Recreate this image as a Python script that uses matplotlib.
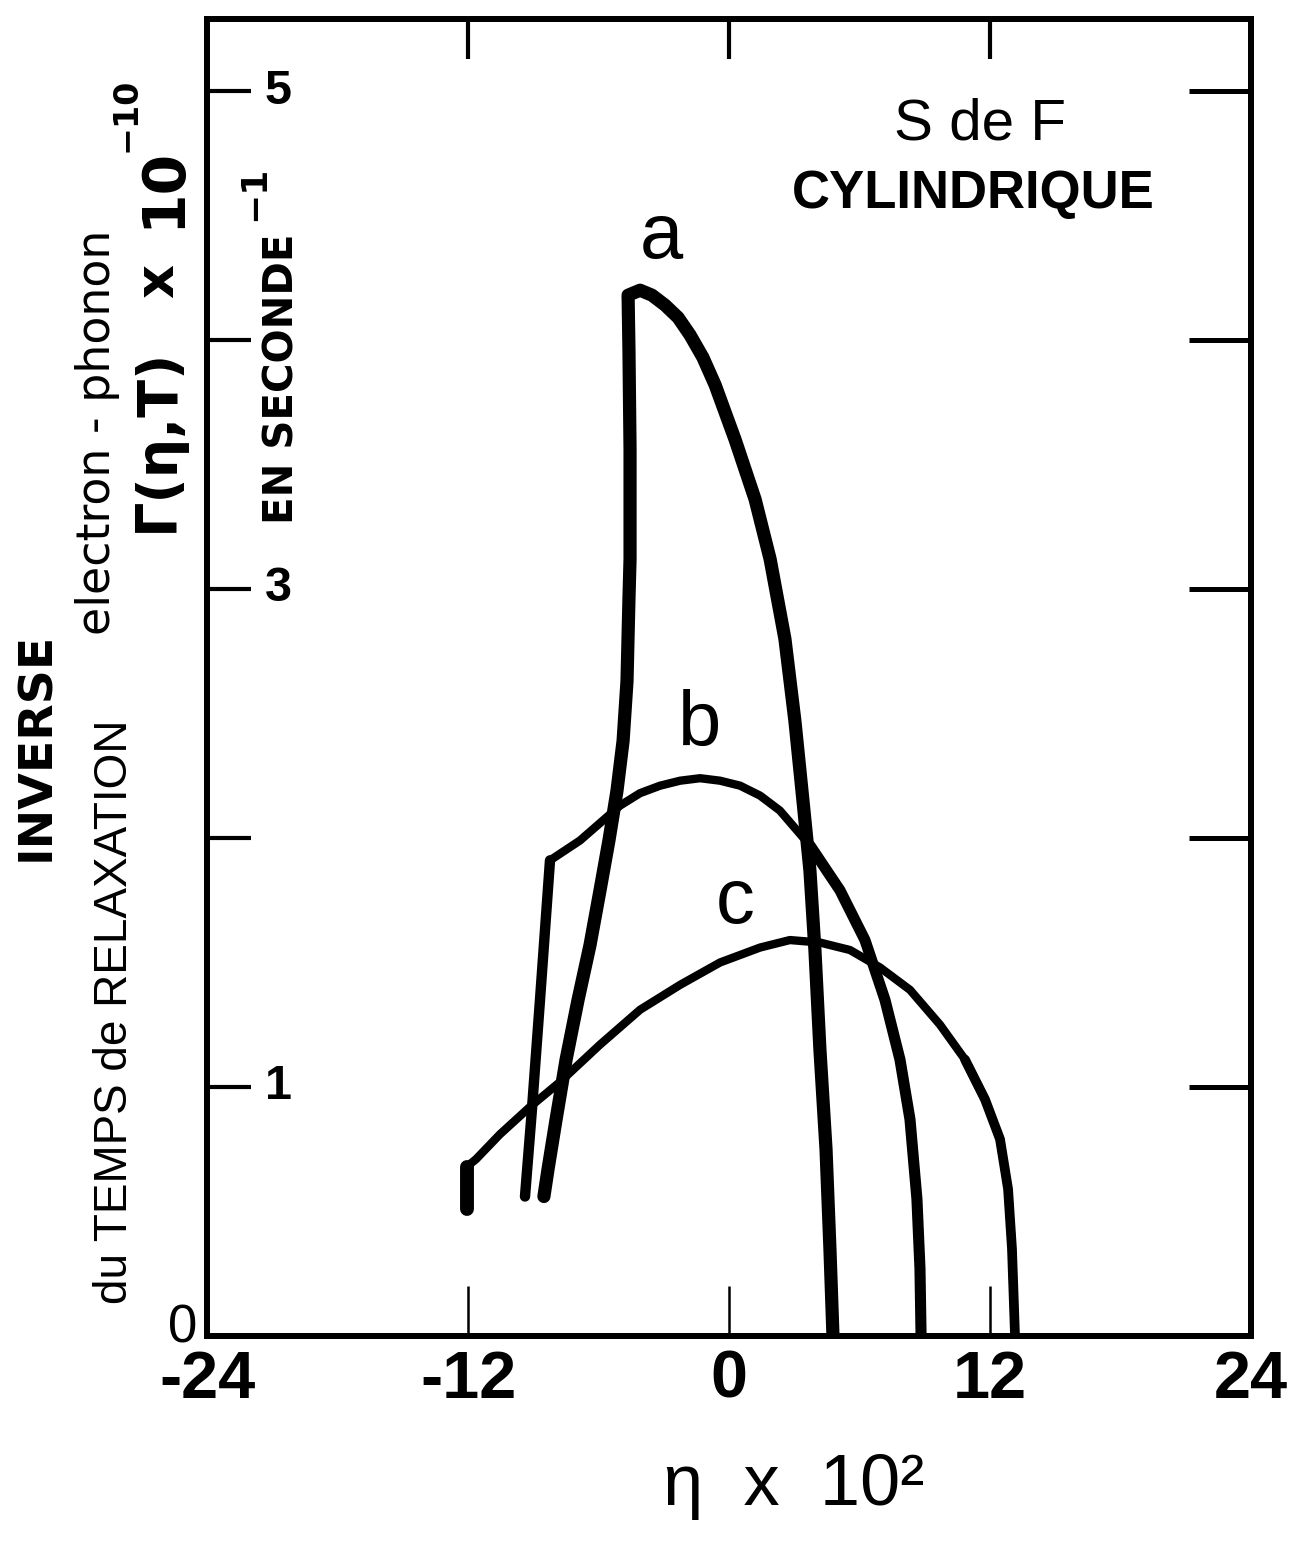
import matplotlib
matplotlib.use("Agg")
import matplotlib.pyplot as plt

plt.rcParams['font.family'] = ['Liberation Sans', 'DejaVu Sans']
plt.rcParams['mathtext.fontset'] = 'dejavusans'
plt.rcParams['mathtext.default'] = 'regular'

# eta x 10^2  vs  Gamma(eta,T) x 10^-10 (s^-1)
eta_a = [-8.51, -8.32, -7.95, -7.49, -6.94, -6.39, -5.93, -5.52, -5.15, -4.87, -4.69, -4.60,
         -4.55, -4.55, -4.60, -4.64, -4.09, -3.54, -2.94, -2.34, -1.79, -1.20, -0.64, 0.28,
         1.20, 1.89, 2.57, 3.03, 3.40, 3.72, 3.95, 4.18, 4.46, 4.64, 4.78]
gam_a = [0.56, 0.67, 0.87, 1.11, 1.35, 1.57, 1.79, 1.99, 2.19, 2.39, 2.63, 2.96,
         3.12, 3.56, 3.96, 4.18, 4.20, 4.18, 4.14, 4.09, 4.02, 3.93, 3.82, 3.60,
         3.36, 3.12, 2.80, 2.47, 2.15, 1.87, 1.55, 1.15, 0.75, 0.35, 0.0]

eta_b = [-9.38, -9.06, -8.69, -8.23, -6.85, -5.93, -5.01, -4.09, -3.17, -2.25, -1.33,
         -0.41, 0.51, 1.43, 2.34, 3.72, 5.10, 6.25, 7.17, 7.86, 8.32, 8.64, 8.78, 8.83]
gam_b = [0.56, 0.91, 1.35, 1.91, 1.99, 2.06, 2.13, 2.18, 2.21, 2.23, 2.24,
         2.23, 2.21, 2.17, 2.11, 1.97, 1.79, 1.59, 1.35, 1.11, 0.87, 0.55, 0.27, 0.0]

eta_c = [-12.05, -12.05, -11.63, -10.53, -9.15, -7.77, -5.93, -4.09, -2.25, -0.41, 1.43,
         2.80, 4.18, 5.56, 6.94, 8.32, 9.70, 10.85, 11.77, 12.46, 12.83, 13.01, 13.15]
gam_c = [0.51, 0.68, 0.71, 0.81, 0.92, 1.02, 1.17, 1.31, 1.41, 1.50, 1.56,
         1.59, 1.58, 1.55, 1.48, 1.39, 1.25, 1.11, 0.95, 0.79, 0.59, 0.35, 0.0]

curve_names = ['a', 'b', 'c']
curve_label_pos = [(-3.1, 4.41), (-1.35, 2.45), (0.3, 1.74)]

xticks = [-24, -12, 0, 12, 24]
xtick_labels = ['-24', '-12', '0', '12', '24']
yticks = [1, 2, 3, 4, 5]
ytick_labels = ['1', '', '3', '', '5']

fig = plt.figure(figsize=(13.06, 15.43), dpi=100)
ax = fig.add_axes([0.1585, 0.1342, 0.7994, 0.8536])
ax.set_xlim(-24, 24)
ax.set_ylim(0, 5.29)
for s in ax.spines.values():
    s.set_linewidth(4.3)

ax.set_xticks(xticks, xtick_labels)
ax.tick_params(axis='x', direction='in', length=36, width=1.8, pad=10, labelsize=48)
for lbl in ax.get_xticklabels():
    lbl.set_fontweight('bold')
ax.set_yticks(yticks)
ax.tick_params(axis='y', direction='in', length=32, width=3, labelleft=False)

# ticks on the top and right edges are longer / only partial
top = ax.secondary_xaxis('top')
top.set_xticks([-12, 0, 12])
top.tick_params(direction='in', length=29, width=3, labeltop=False)
top.spines['top'].set_linewidth(4.3)
right = ax.secondary_yaxis('right')
right.set_yticks(yticks)
right.tick_params(direction='in', length=45, width=3.6, labelright=False)
right.spines['right'].set_linewidth(4.3)

# tick values written inside the frame
for y, t in zip(yticks, ytick_labels):
    if t:
        ax.text(-21.35, y, t, ha='left', va='center', fontsize=35, fontweight='bold')
ax.text(-25.1, 0.03, '0', ha='center', va='center', fontsize=38, clip_on=False)

# curves (thickness varies along the hand-drawn lines)
kw = dict(color='black', solid_capstyle='round', solid_joinstyle='round')
ax.plot(eta_a, gam_a, lw=9.5, **kw)
ax.plot(eta_b, gam_b, lw=6, **kw)
ax.plot(eta_b[:4], gam_b[:4], lw=7.5, **kw)
ax.plot(eta_b[15:], gam_b[15:], lw=8, **kw)
ax.plot(eta_c, gam_c, lw=6, **kw)
ax.plot(eta_c[:2], gam_c[:2], lw=10, **kw)
ax.plot(eta_c[17:], gam_c[17:], lw=7, **kw)

for name, (x, y) in zip(curve_names, curve_label_pos):
    ax.text(x, y, name, ha='center', va='center', fontsize=56)

ax.text(0.74, 0.92, 'S de F', transform=ax.transAxes, ha='center', va='center', fontsize=42)
ax.text(0.734, 0.867, 'CYLINDRIQUE', transform=ax.transAxes, ha='center', va='center',
        fontsize=38, fontweight='bold')

# axis titles, hand-lettered in several pieces
W, H = 1306, 1543
def ft(px, py, s, **k):
    fig.text(px / W, 1 - py / H, s, rotation=90, ha='center', va='center', **k)

dv = 'DejaVu Sans'
ft(37, 746, 'INVERSE', fontsize=34, fontweight='bold', family=dv)
ft(115, 1012, 'du TEMPS de RELAXATION', fontsize=33)
ft(98, 432, 'electron - phonon', fontsize=33, family=dv)
ft(158, 440, 'Γ(η,T)', fontsize=40, fontweight='bold', family=dv)
ft(158, 281, 'x', fontsize=38, fontweight='bold', family=dv)
ft(163, 187, '10', fontsize=42, fontweight='bold', family=dv)
ft(126, 115, '−10', fontsize=24, fontweight='bold', family=dv)
ft(283, 379, 'EN SECONDE', fontsize=29, fontweight='bold', family=dv)
ft(254, 193, '−1', fontsize=26, fontweight='bold', family=dv)

fig.text(794 / W, 1 - 1505 / H, 'η  x  10²', ha='center', va='baseline', fontsize=52)

fig.savefig('out.png', dpi=100, facecolor='white')
